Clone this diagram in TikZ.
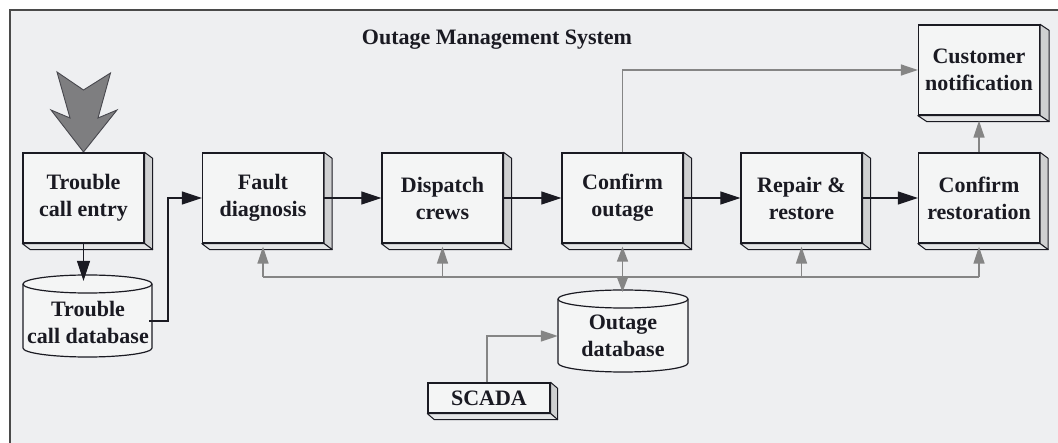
\documentclass[tikz,border=0pt]{standalone}
\usepackage{fontspec}
\setmainfont{Liberation Serif}
\usetikzlibrary{arrows.meta,calc}

\definecolor{bg}{HTML}{EEEFF1}
\definecolor{boxfill}{HTML}{F4F5F5}
\definecolor{ink}{HTML}{1A1A22}
\definecolor{linegray}{HTML}{858585}
\definecolor{sideface}{HTML}{CFD0D1}
\definecolor{bottomface}{HTML}{E4E5E6}
\definecolor{framecol}{HTML}{4A4A4A}
\definecolor{bigarrow}{HTML}{7E7E80}

\tikzset{
  labeltext/.style={font=\bfseries\fontsize{22}{27}\selectfont, text=ink, align=center},
  stepbox/.style={labeltext, draw=ink, line width=1.3pt, fill=boxfill,
    minimum width=121pt, minimum height=90pt, inner sep=0pt},
  smallbox/.style={labeltext, draw=ink, line width=1.3pt, fill=boxfill,
    minimum width=122pt, minimum height=30pt, inner sep=0pt},
  dbtext/.style={labeltext, inner sep=0pt},
  flow/.style={draw=ink, line width=1.2pt, -{Triangle[length=20pt,width=13pt]}},
  feedline/.style={draw=linegray, line width=1.6pt},
  feed/.style={feedline, -{Triangle[length=17pt,width=11pt]}},
  feedboth/.style={feedline, {Triangle[length=15pt,width=11pt]}-{Triangle[length=15pt,width=11pt]}},
  faceline/.style={draw=ink, line width=1pt, line join=round},
}

% 3-D depth faces on the right and bottom of a box node
\newcommand\boxdepth[3]{%
  \filldraw[faceline, fill=sideface] (#1.north east) -- ([shift={(#2,#3)}]#1.north east)
    -- ([shift={(#2,#3)}]#1.south east) -- (#1.south east) -- cycle;
  \filldraw[faceline, fill=bottomface] (#1.south west) -- ([shift={(#2,#3)}]#1.south west)
    -- ([shift={(#2,#3)}]#1.south east) -- (#1.south east) -- cycle;
}

% database drum: centre x, top y, bottom y, half width, end radius
\newcommand\drum[5]{%
  \filldraw[draw=ink, line width=1.2pt, fill=boxfill]
    (#1-#4,#2+#5) arc[start angle=180, end angle=0, x radius=#4pt, y radius=#5pt]
    -- (#1+#4,#3-#5) arc[start angle=0, end angle=-180, x radius=#4pt, y radius=#5pt]
    -- cycle;
  \draw[draw=ink, line width=1.2pt]
    (#1-#4,#2+#5) arc[start angle=180, end angle=360, x radius=#4pt, y radius=#5pt];
}

\begin{document}
\begin{tikzpicture}[x=1pt, y=-1pt]
  \useasboundingbox (0,0) rectangle (1058,443);
  \clip (0,0) rectangle (1058,443);
  \fill[white] (0,0) rectangle (1058,443);
  \filldraw[fill=bg, draw=framecol, line width=1.6pt] (10,10) rectangle (1090,480);

  % title
  \node[labeltext] (title) at (497,40) {Outage Management System};

  % incoming call arrow
  \filldraw[fill=bigarrow, draw=ink!80, line width=0.9pt, line join=miter]
    (57,72) -- (83.5,90) -- (110.5,73) -- (98,118) -- (117,110) -- (83.5,152)
    -- (51,110) -- (70,118) -- cycle;

  % process boxes
  \node[stepbox] (tce) at (83.5,198)  {Trouble\\call entry};
  \node[stepbox] (fd)  at (263,198)   {Fault\\diagnosis};
  \node[stepbox] (dc)  at (442.5,198) {Dispatch\\crews};
  \node[stepbox] (co)  at (622.5,198) {Confirm\\outage};
  \node[stepbox] (rr)  at (801.5,198) {Repair \&\\restore};
  \node[stepbox] (cr)  at (979,198)   {Confirm\\restoration};
  \node[stepbox] (cn)  at (979,70)    {Customer\\notification};
  \node[smallbox] (sc) at (489,398)   {SCADA};

  \foreach \b in {tce,fd,dc,co,rr,cr}{\boxdepth{\b}{8}{6}}
  \boxdepth{cn}{9}{6}
  \boxdepth{sc}{7}{6}

  % databases
  \drum{87.5}{275}{357}{64.5}{9}
  \node[dbtext] (tdb) at (88,322) {Trouble\\call database};
  \coordinate (tdbcap) at (83.5,281);
  \drum{623}{290}{372}{65}{9}
  \node[dbtext, minimum width=130pt] (odb) at (623,336) {Outage\\database};
  \coordinate (odbcap) at (622.5,292);

  % main flow
  \draw[flow] (tce.south) -- (tdbcap);
  \draw[flow] ($(tdb.east)+(0,-1)$) -- ++(19,0) |- (fd.west);
  \draw[flow] (fd.east) -- (dc.west);
  \draw[flow] (dc.east) -- (co.west);
  \draw[flow] (co.east) -- (rr.west);
  \draw[flow] (rr.east) -- (cr.west);

  % shared data bus
  \coordinate (bus) at (0,277);
  \draw[feedline] (fd.south |- bus) -- (cr.south |- bus);
  \foreach \b in {fd,dc,rr,cr}{\draw[feed] (\b.south |- bus) -- ($(\b.south)+(0,3)$);}
  \draw[feedboth] ($(co.south)+(0,3)$) -- (odbcap);

  % notification and SCADA feeds
  \draw[feed] (co.north) |- (cn.west);
  \draw[feed] (cr.north) -- ($(cn.south)+(0,5)$);
  \draw[feed] ($(sc.north)+(-2,0)$) |- (odb.west);
\end{tikzpicture}
\end{document}
